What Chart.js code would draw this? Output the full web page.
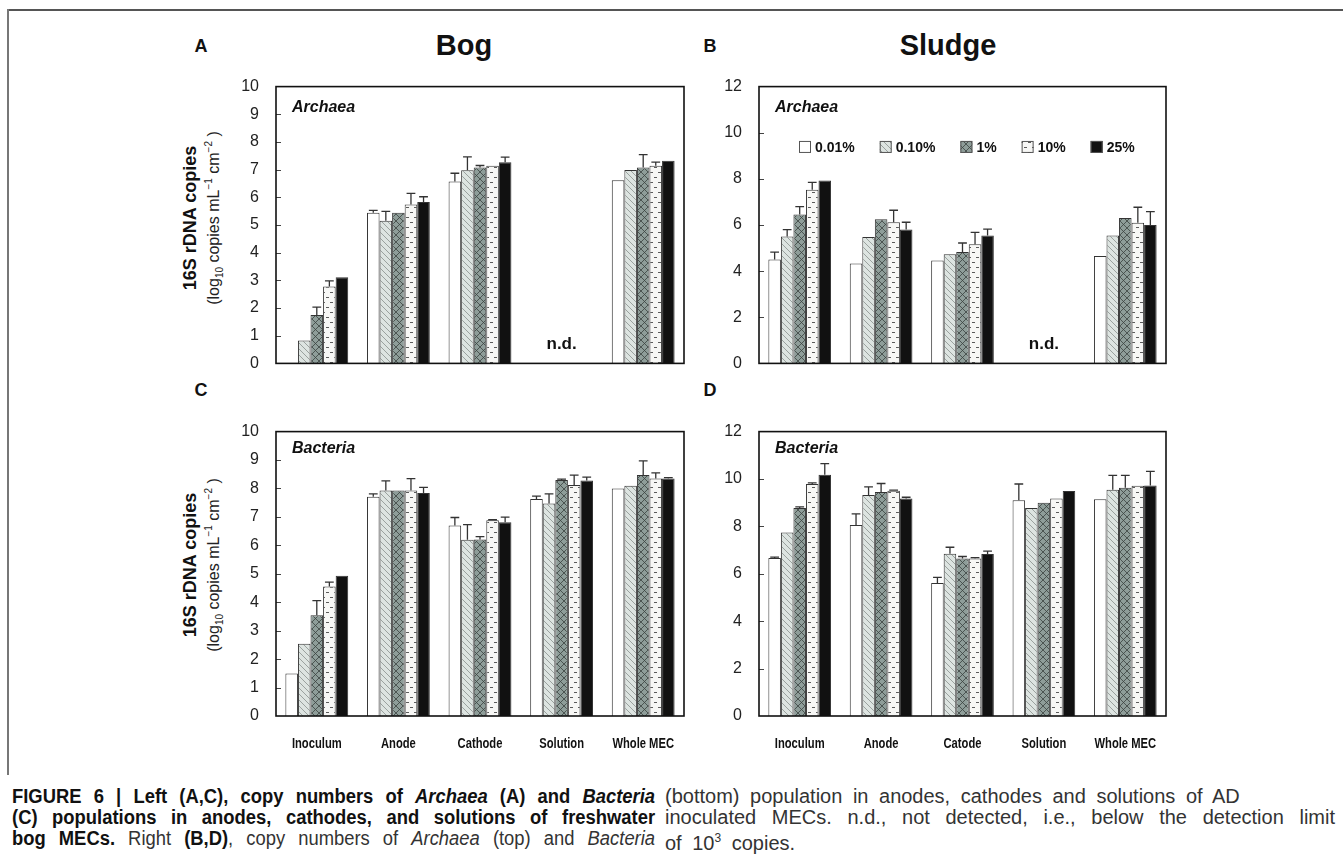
<!DOCTYPE html>
<html>
<head>
<meta charset="utf-8">
<script src="https://cdn.jsdelivr.net/npm/chart.js@4.4.1/dist/chart.umd.min.js"></script>
<style>
  body { margin: 0; width: 1343px; height: 860px; background: #fff; position: relative; overflow: hidden;
         font-family: "Liberation Sans", Arial, Helvetica, sans-serif; color: #111; }
  canvas { position: absolute; }
  .frame-top { position: absolute; left: 7px; top: 9px; width: 1336px; height: 2px; background: #555; }
  .frame-left { position: absolute; left: 7px; top: 9px; width: 2px; height: 766px; background: #777; }
  .lbl { position: absolute; font-weight: bold; font-size: 18px; transform: translate(-50%, -50%); }
  .ttl { position: absolute; font-weight: bold; font-size: 29px; transform: translate(-50%, -50%); }
  .ytitle { position: absolute; transform: translate(-50%, -50%) rotate(-90deg); text-align: center; white-space: nowrap; }
  .ytitle .l1 { font-weight: bold; font-size: 18px; line-height: 19px; }
  .ytitle .l2 { font-size: 16px; line-height: 18px; color: #222; }
  .ytitle sub, .ytitle sup { font-size: 10px; }
  /* condensed look: plain Liberation Sans squeezed horizontally */
  .cap { position: absolute; font-family: "Liberation Sans", Arial, sans-serif; font-size: 20px; line-height: 21px;
         color: #333; transform-origin: 0 0; }
  .cap div { text-align: justify; text-align-last: justify; }
  .cap b { color: #111; }
  .cap sup { font-size: 12px; }
</style>
</head>
<body>
<div class="frame-top"></div>
<div class="frame-left"></div>

<div class="lbl" style="left:201px;top:46px">A</div>
<div class="lbl" style="left:710px;top:46px">B</div>
<div class="lbl" style="left:201px;top:390px">C</div>
<div class="lbl" style="left:710px;top:390px">D</div>
<div class="ttl" style="left:464px;top:45px">Bog</div>
<div class="ttl" style="left:948px;top:45px">Sludge</div>

<div class="ytitle" style="left:205px;top:218px">
  <div class="l1">16S rDNA copies</div>
  <div class="l2">(log<sub>10</sub> copies mL<sup>−1</sup> cm<sup>−2</sup> )</div>
</div>
<div class="ytitle" style="left:205px;top:565px">
  <div class="l1">16S rDNA copies</div>
  <div class="l2">(log<sub>10</sub> copies mL<sup>−1</sup> cm<sup>−2</sup> )</div>
</div>

<canvas id="cA"></canvas>
<canvas id="cB"></canvas>
<canvas id="cC"></canvas>
<canvas id="cD"></canvas>

<div class="cap" style="left:12px;top:786px;width:699px;transform:scaleX(0.92)">
  <div><b>FIGURE 6 | Left (A,C), copy numbers of <i>Archaea</i> (A) and <i>Bacteria</i></b></div>
  <div><b>(C) populations in anodes, cathodes, and solutions of freshwater</b></div>
  <div><b>bog MECs.</b> Right <b>(B,D)</b>, copy numbers of <i>Archaea</i> (top) and <i>Bacteria</i></div>
</div>
<div class="cap" style="left:665px;top:786px;width:670px">
  <div style="text-align-last:left;word-spacing:5px">(bottom) population in anodes, cathodes and solutions of AD</div>
  <div>inoculated MECs. n.d., not detected, i.e., below the detection limit</div>
  <div style="text-align-last:left;word-spacing:5px">of 10<sup>3</sup> copies.</div>
</div>

<script>
const bogCategories = ['Inoculum', 'Anode', 'Cathode', 'Solution', 'Whole MEC'];
const sludgeCategories = ['Inoculum', 'Anode', 'Catode', 'Solution', 'Whole MEC'];
const seriesLabels = ['0.01%', '0.10%', '1%', '10%', '25%'];
const bogTicks = [0, 1, 2, 3, 4, 5, 6, 7, 8, 9, 10];
const sludgeTicks = [0, 2, 4, 6, 8, 10, 12];

// rows = series (0.01% .. 25%), columns = categories, null = n.d.
const bogArchaea = [
  [null, 5.44, 6.57, null, 6.62],
  [0.83, 5.15, 6.98, null, 6.99],
  [1.75, 5.44, 7.08, null, 7.08],
  [2.78, 5.74, 7.14, null, 7.14],
  [3.11, 5.83, 7.27, null, 7.32]
];
const bogArchaeaErr = [
  [0, 0.09, 0.30, 0, 0],
  [0, 0.34, 0.48, 0, 0],
  [0.28, 0, 0.07, 0, 0.46],
  [0.20, 0.40, 0, 0, 0.13],
  [0, 0.19, 0.18, 0, 0]
];
const sludgeArchaea = [
  [4.50, 4.33, 4.46, null, 4.66],
  [5.50, 5.48, 4.73, null, 5.55],
  [6.45, 6.25, 4.83, null, 6.30],
  [7.53, 6.12, 5.17, null, 6.10],
  [7.93, 5.80, 5.54, null, 6.00]
];
const sludgeArchaeaErr = [
  [0.32, 0, 0, 0, 0],
  [0.30, 0, 0, 0, 0],
  [0.35, 0, 0.39, 0, 0],
  [0.32, 0.52, 0.51, 0, 0.67],
  [0, 0.32, 0.28, 0, 0.58]
];
const bogBacteria = [
  [1.49, 7.71, 6.70, 7.63, 8.00],
  [2.54, 7.93, 6.20, 7.47, 8.10],
  [3.54, 7.93, 6.21, 8.30, 8.47],
  [4.55, 7.93, 6.88, 8.12, 8.35],
  [4.93, 7.84, 6.81, 8.28, 8.35]
];
const bogBacteriaErr = [
  [0, 0.10, 0.28, 0.10, 0],
  [0, 0.34, 0.53, 0.34, 0],
  [0.52, 0, 0.10, 0.03, 0.50],
  [0.16, 0.42, 0.02, 0.35, 0.20],
  [0, 0.20, 0.18, 0.12, 0.03]
];
const sludgeBacteria = [
  [6.67, 8.06, 5.61, 9.10, 9.15],
  [7.74, 9.33, 6.85, 8.78, 9.55],
  [8.78, 9.45, 6.65, 9.00, 9.63],
  [9.79, 9.50, 6.65, 9.18, 9.72],
  [10.18, 9.18, 6.84, 9.49, 9.73]
];
const sludgeBacteriaErr = [
  [0.03, 0.47, 0.24, 0.69, 0],
  [0, 0.34, 0.27, 0, 0.60],
  [0.04, 0.36, 0.08, 0, 0.52],
  [0.05, 0.03, 0.03, 0, 0],
  [0.47, 0.05, 0.12, 0, 0.59]
];

const SANS = '"Liberation Sans", Arial, Helvetica, sans-serif';

// hatch fills like the original figure
function makePattern(kind) {
  const c = document.createElement('canvas');
  const x = c.getContext('2d');
  if (kind === 'diag') {
    c.width = 6; c.height = 6;
    x.fillStyle = '#dde4e1'; x.fillRect(0, 0, 6, 6);
    x.strokeStyle = '#7d8481'; x.lineWidth = 0.7;
    x.beginPath();
    x.moveTo(-1, -1); x.lineTo(7, 7);
    x.moveTo(-1, 5); x.lineTo(1, 7);
    x.moveTo(5, -1); x.lineTo(7, 1);
    x.stroke();
  } else if (kind === 'cross') {
    c.width = 7; c.height = 7;
    x.fillStyle = '#8e9d99'; x.fillRect(0, 0, 7, 7);
    x.strokeStyle = '#3b4240'; x.lineWidth = 0.8;
    x.beginPath();
    x.moveTo(-1, -1); x.lineTo(8, 8);
    x.moveTo(8, -1); x.lineTo(-1, 8);
    x.stroke();
  } else {
    c.width = 8; c.height = 10;
    x.fillStyle = '#f7f7f5'; x.fillRect(0, 0, 8, 10);
    x.fillStyle = '#5a5a5a';
    x.fillRect(0, 2, 3, 1);
    x.fillRect(4, 7, 3, 1);
  }
  return x.createPattern(c, 'repeat');
}

const fills = ['#ffffff', makePattern('diag'), makePattern('cross'), makePattern('dash'), '#111111'];

function decorPlugin(cfg) {
  return {
    id: 'decor',
    afterDatasetsDraw(chart) {
      const ctx = chart.ctx, ys = chart.scales.y;
      ctx.save();
      ctx.strokeStyle = '#333';
      ctx.lineWidth = 1.3;
      chart.data.datasets.forEach((ds, i) => {
        const meta = chart.getDatasetMeta(i);
        ds.data.forEach((v, j) => {
          const e = ds.err[j];
          if (v == null || !e) return;
          const el = meta.data[j];
          const top = ys.getPixelForValue(v + e);
          const cap = el.width * 0.35;
          ctx.beginPath();
          ctx.moveTo(el.x, el.y);
          ctx.lineTo(el.x, top);
          ctx.moveTo(el.x - cap, top);
          ctx.lineTo(el.x + cap, top);
          ctx.stroke();
        });
      });
      ctx.restore();
    },
    afterDraw(chart) {
      const ctx = chart.ctx, a = chart.chartArea, ys = chart.scales.y, xs = chart.scales.x;
      const h = a.bottom - a.top;
      ctx.save();
      // small inward ticks on the left axis
      ctx.strokeStyle = '#444';
      ctx.lineWidth = 1;
      ys.ticks.forEach(t => {
        if (t.value === ys.min || t.value === ys.max) return;
        const py = Math.round(ys.getPixelForValue(t.value)) + 0.5;
        ctx.beginPath();
        ctx.moveTo(a.left, py);
        ctx.lineTo(a.left + 5, py);
        ctx.stroke();
      });
      ctx.strokeStyle = '#111';
      ctx.lineWidth = 1.6;
      ctx.strokeRect(a.left, a.top, a.right - a.left, h);

      ctx.fillStyle = '#111';
      ctx.textBaseline = 'middle';
      ctx.textAlign = 'left';
      ctx.font = 'italic bold 16px ' + SANS;
      ctx.fillText(cfg.taxon, a.left + 16, a.top + cfg.taxonDy);

      if (cfg.nd != null) {
        ctx.font = 'bold 17px ' + SANS;
        ctx.textAlign = 'center';
        ctx.fillText('n.d.', xs.getPixelForValue(cfg.nd), a.top + h * 0.93);
      }

      if (cfg.legend) {
        let lx = a.left + 40;
        const ly = a.top + h * 0.218;
        ctx.font = 'bold 14px ' + SANS;
        ctx.textAlign = 'left';
        chart.data.datasets.forEach(ds => {
          ctx.fillStyle = ds.backgroundColor;
          ctx.fillRect(lx, ly - 6, 12, 12);
          ctx.strokeStyle = '#555';
          ctx.lineWidth = 1;
          ctx.strokeRect(lx + 0.5, ly - 5.5, 11, 11);
          ctx.fillStyle = '#111';
          ctx.fillText(ds.label, lx + 16, ly + 1);
          lx += 16 + ctx.measureText(ds.label).width + 25;
        });
      }

      // category names under the bottom panels, in a narrow bold face
      if (cfg.showX) {
        ctx.font = 'bold 14px ' + SANS;
        ctx.textAlign = 'center';
        ctx.fillStyle = '#111';
        const ly = a.bottom + 28;
        chart.data.labels.forEach((lab, i) => {
          const px = xs.getPixelForValue(i);
          ctx.save();
          ctx.translate(px, ly);
          ctx.scale(0.8, 1);
          ctx.fillText(lab, 0, 0);
          ctx.restore();
        });
      }
      ctx.restore();
    }
  };
}

function panel(id, p) {
  const cv = document.getElementById(id);
  cv.width = p.w; cv.height = p.h;
  cv.style.left = p.x0 + 'px';
  cv.style.top = p.y0 + 'px';

  const datasets = seriesLabels.map((lab, i) => ({
    label: lab,
    data: p.values[i],
    err: p.errors[i],
    backgroundColor: fills[i],
    borderColor: '#333',
    borderWidth: 1,
    categoryPercentage: 0.77,
    barPercentage: 1.0
  }));

  new Chart(cv, {
    type: 'bar',
    data: { labels: p.labels, datasets: datasets },
    options: {
      responsive: false,
      animation: false,
      layout: {
        padding: {
          left: 0,
          top: p.t - p.y0,
          right: p.x0 + p.w - p.r,
          bottom: p.y0 + p.h - p.b
        }
      },
      plugins: { legend: { display: false }, tooltip: { enabled: false } },
      scales: {
        x: { display: false },
        y: {
          min: 0,
          max: p.ticks[p.ticks.length - 1],
          grid: { display: false, drawTicks: false },
          border: { display: false },
          afterBuildTicks: s => { s.ticks = p.ticks.map(v => ({ value: v })); },
          ticks: { padding: 17, color: '#222', font: { family: SANS, size: 16 } },
          afterFit: s => { s.width = p.l - p.x0; }
        }
      }
    },
    plugins: [decorPlugin(p)]
  });
}

panel('cA', { x0: 130, y0: 60, w: 570, h: 330, l: 276, t: 72, r: 684, b: 369,
  labels: bogCategories, values: bogArchaea, errors: bogArchaeaErr, ticks: bogTicks,
  taxon: 'Archaea', taxonDy: 21, nd: 3, legend: false, showX: false });
panel('cB', { x0: 700, y0: 60, w: 540, h: 330, l: 759, t: 72, r: 1166, b: 369,
  labels: sludgeCategories, values: sludgeArchaea, errors: sludgeArchaeaErr, ticks: sludgeTicks,
  taxon: 'Archaea', taxonDy: 21, nd: 3, legend: true, showX: false });
panel('cC', { x0: 130, y0: 405, w: 570, h: 365, l: 276, t: 420, r: 684, b: 716,
  labels: bogCategories, values: bogBacteria, errors: bogBacteriaErr, ticks: bogTicks,
  taxon: 'Bacteria', taxonDy: 17, nd: null, legend: false, showX: true });
panel('cD', { x0: 700, y0: 405, w: 540, h: 365, l: 759, t: 420, r: 1166, b: 716,
  labels: sludgeCategories, values: sludgeBacteria, errors: sludgeBacteriaErr, ticks: sludgeTicks,
  taxon: 'Bacteria', taxonDy: 17, nd: null, legend: false, showX: true });
</script>
</body>
</html>
